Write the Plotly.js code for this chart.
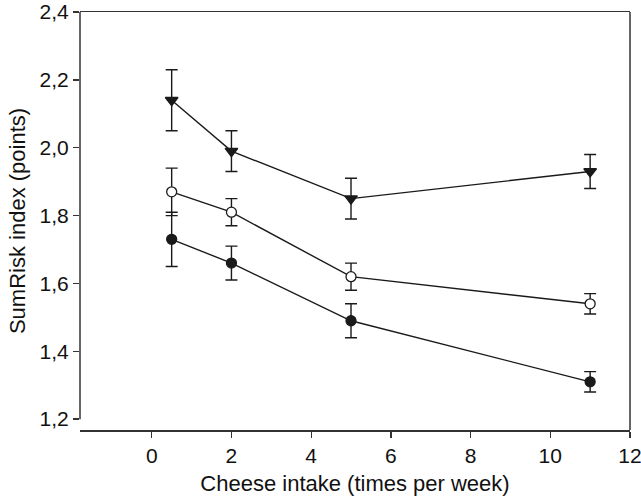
<!DOCTYPE html>
<html>
<head>
<meta charset="utf-8">
<script src="https://cdn.plot.ly/plotly-3.0.1.min.js"></script>
<style>html,body{margin:0;padding:0;background:#fff;}#chart{width:641px;height:497px;}</style>
</head>
<body>
<div id="chart"></div>
<script>
var intake = [0.5, 2, 5, 11];

var triangleMean = [2.14, 1.99, 1.85, 1.93];
var triangleErr  = [0.09, 0.06, 0.06, 0.05];

var openMean = [1.87, 1.81, 1.62, 1.54];
var openErr  = [0.07, 0.04, 0.04, 0.03];

var filledMean = [1.73, 1.66, 1.49, 1.31];
var filledErr  = [0.08, 0.05, 0.05, 0.03];

var xTicks = [0, 2, 4, 6, 8, 10, 12];
var yTicks = [1.2, 1.4, 1.6, 1.8, 2.0, 2.2, 2.4];

var ink = '#1a1a1a';
function series(y, e, symbol, fill) {
  return {
    x: intake, y: y, type: 'scatter', mode: 'lines+markers',
    line: {color: ink, width: 1.4},
    marker: {symbol: symbol, size: symbol === 'triangle-down' ? 11 : 10, color: fill, line: {color: ink, width: 1.3}},
    error_y: {type: 'data', array: e, visible: true, color: ink, thickness: 1.4, width: 6},
    showlegend: false, hoverinfo: 'none', cliponaxis: false
  };
}

var data = [
  series(filledMean, filledErr, 'circle', ink),
  series(openMean, openErr, 'circle', '#ffffff'),
  series(triangleMean, triangleErr, 'triangle-down', ink)
];

var axisColor = '#333333';
var font = {family: 'Liberation Sans, Arial, sans-serif', size: 22, color: '#111'};
var tickFont = {family: 'Liberation Sans, Arial, sans-serif', size: 21, color: '#111'};

var layout = {
  width: 641, height: 497,
  margin: {l: 80, r: 11, t: 12, b: 67},
  paper_bgcolor: '#fff', plot_bgcolor: '#fff',
  separators: ',.',
  font: font,
  xaxis: {
    range: [-1.8, 12.0001], tickvals: xTicks, ticks: 'outside', ticklen: 6, tickwidth: 1.3, tickcolor: axisColor,
    showline: true, mirror: true, linecolor: axisColor, linewidth: 1.5, showgrid: false, zeroline: false,
    tickfont: tickFont, ticklabeloverflow: 'allow', automargin: false,
    title: {text: 'Cheese intake (times per week)', font: font, standoff: 10}
  },
  yaxis: {
    range: [1.168, 2.4001], tickvals: yTicks, tickformat: '.1f', ticks: 'outside', ticklen: 6, tickwidth: 1.3, tickcolor: axisColor,
    showline: false, showgrid: false, zeroline: false,
    tickfont: tickFont, ticklabeloverflow: 'allow', automargin: false,
    title: {text: 'SumRisk index (points)', font: font, standoff: 7}
  },
  shapes: [
    {type: 'line', xref: 'paper', yref: 'y', x0: 0, x1: 0, y0: 1.2, y1: 2.4, line: {color: axisColor, width: 1.5}},
    {type: 'line', xref: 'paper', yref: 'paper', x0: 1, x1: 1, y0: 0, y1: 1, line: {color: axisColor, width: 1.5}}
  ]
};

Plotly.newPlot('chart', data, layout, {displayModeBar: false, staticPlot: true});
</script>
</body>
</html>
